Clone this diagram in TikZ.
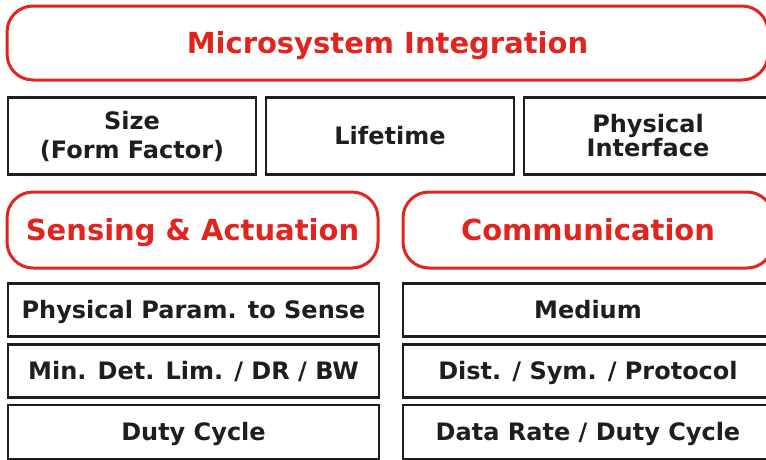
\documentclass[tikz,border=0pt]{standalone}
\usepackage{fontspec}
\setmainfont{DejaVu Sans}
\usepackage{xcolor}
\usetikzlibrary{positioning}
\definecolor{mred}{RGB}{226,36,30}
\definecolor{mgray}{RGB}{30,30,30}

\begin{document}
\begin{tikzpicture}[x=1pt,y=-1pt,
                    red node/.style={draw=mred,line width=3pt,text=mred,rounded corners=26pt,
                                     font=\bfseries\fontsize{29}{32}\selectfont,inner sep=0pt,
                                     text height=21pt,text depth=0pt},
                    main node/.style={draw=mgray,line width=2.8pt,text=mgray,align=center,
                                      font=\bfseries\fontsize{24}{27}\selectfont,inner sep=0pt},
                    one line/.style={text height=17.5pt,text depth=0pt}]

 \useasboundingbox (0,0) rectangle (766,459);

 \node[red node,minimum width=761pt,minimum height=74pt] (integ) at (387.5,43) {Microsystem Integration};

 \node[main node,minimum width=248pt,minimum height=77pt] (size) at (132,136) {Size\\[2pt](Form Factor)};
 \node[main node,one line,minimum width=248pt,minimum height=77pt] (life) at (390,136) {Lifetime};
 \node[main node,minimum width=248pt,minimum height=77pt] (phys) at (648,136) {Physical\\[-3pt]Interface};

 \node[red node,minimum width=371pt,minimum height=76pt] (sense) at (192.5,230) {Sensing \& Actuation};
 \node[red node,minimum width=370pt,minimum height=76pt] (comm) at (588,230) {Communication};

 \node[main node,one line,minimum width=371pt,minimum height=53pt] (param) at (193.5,310) {Physical Param. to Sense};
 \node[main node,one line,minimum width=371pt,minimum height=53pt] (mdl) at (193.5,371) {Min. Det. Lim. / DR / BW};
 \node[main node,one line,minimum width=371pt,minimum height=54pt] (duty) at (193.5,432) {Duty Cycle};

 \node[main node,one line,minimum width=370pt,minimum height=53pt] (medium) at (588,310) {Medium};
 \node[main node,one line,minimum width=370pt,minimum height=53pt] (proto) at (588,371) {Dist. / Sym. / Protocol};
 \node[main node,one line,minimum width=370pt,minimum height=54pt] (rate) at (588,432) {Data Rate / Duty Cycle};

\end{tikzpicture}
\end{document}
